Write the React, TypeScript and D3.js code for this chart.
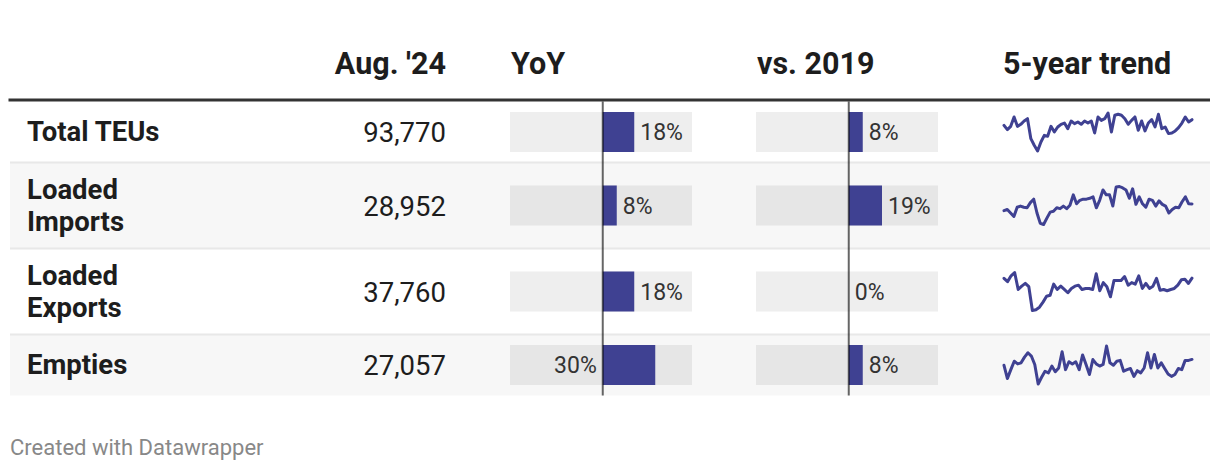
import React from "react";
import * as d3 from "d3";

// ---------- data ----------
const categories = ["Total TEUs", "Loaded Imports", "Loaded Exports", "Empties"];
const columnHeaders = ["Aug. '24", "YoY", "vs. 2019", "5-year trend"];
const aug24 = [93770, 28952, 37760, 27057];
const yoy = [18, 8, 18, 30];
const vs2019 = [8, 19, 0, 8];

// monthly TEUs (thousands), Aug 2019 – Aug 2024
const trendTotal = [87.6, 82.9, 86.5, 96.7, 86.5, 88.7, 92.3, 94.8, 73.1, 65.9, 59.7, 69.5, 76.7, 75.7, 86.5, 80.4, 85.8, 88.7, 90.1, 84.0, 92.3, 89.4, 91.2, 88.7, 92.3, 90.1, 92.3, 79.3, 96.7, 93.0, 94.8, 101.0, 80.4, 98.5, 99.6, 98.5, 94.8, 88.7, 93.0, 96.7, 82.2, 92.3, 81.5, 90.1, 93.8, 85.8, 99.6, 84.0, 85.8, 78.6, 79.3, 81.5, 85.1, 90.1, 96.7, 91.2, 93.77];
const trendImports = [26.6, 27.0, 25.8, 24.6, 27.8, 28.2, 27.8, 27.6, 29.4, 30.6, 25.8, 22.2, 21.8, 24.0, 26.1, 26.4, 27.6, 27.3, 28.2, 27.3, 28.5, 32.1, 29.0, 30.2, 30.6, 30.6, 30.9, 31.4, 27.6, 30.2, 33.8, 32.1, 32.1, 28.2, 34.8, 35.0, 34.5, 33.8, 30.9, 34.2, 28.8, 31.4, 29.0, 27.8, 30.6, 30.2, 28.2, 30.0, 28.8, 28.2, 25.8, 27.0, 27.8, 27.6, 29.7, 31.4, 29.0, 28.95];
const trendExports = [37.7, 36.4, 38.7, 40.0, 33.3, 34.6, 35.7, 34.4, 25.0, 25.3, 26.3, 28.3, 30.6, 31.0, 35.4, 33.3, 34.6, 33.3, 32.0, 33.7, 34.6, 35.0, 33.3, 33.7, 33.7, 33.3, 39.5, 32.8, 36.0, 34.4, 30.4, 36.8, 36.8, 36.8, 38.4, 35.0, 36.0, 35.4, 38.7, 33.7, 35.7, 33.7, 34.6, 37.7, 33.0, 33.3, 32.8, 33.3, 33.7, 35.0, 37.1, 37.3, 35.7, 37.76];
const trendEmpties = [24.9, 20.0, 23.3, 26.4, 25.4, 25.8, 27.9, 29.5, 28.3, 25.2, 18.0, 20.5, 22.7, 22.1, 24.6, 22.5, 23.9, 29.9, 23.3, 26.2, 25.4, 26.2, 23.3, 28.7, 25.2, 21.5, 27.0, 25.4, 24.6, 25.2, 32.0, 25.8, 24.9, 26.4, 26.7, 22.7, 23.3, 23.7, 20.8, 22.9, 22.1, 23.9, 29.5, 23.9, 28.9, 23.9, 25.8, 23.7, 21.7, 20.8, 21.5, 23.7, 23.3, 26.7, 26.7, 27.06];
const trends = [trendTotal, trendImports, trendExports, trendEmpties];

const barDomain = [-53, 51];

// ---------- style ----------
const FONT = "Roboto, 'Noto Sans', sans-serif";
const BAR = "#3f4192";
const TEXT = "#1d1d1d";

let _ctx: CanvasRenderingContext2D | null = null;
function measure(text: string, font: string) {
  if (!_ctx) _ctx = document.createElement("canvas").getContext("2d");
  _ctx!.font = font;
  return _ctx!.measureText(text).width;
}

function wrap(text: string, font: string, maxW: number) {
  const words = text.split(" ");
  const lines: string[] = [];
  let cur = "";
  words.forEach((w) => {
    const t = cur ? cur + " " + w : w;
    if (cur && measure(t, font) > maxW) {
      lines.push(cur);
      cur = w;
    } else cur = t;
  });
  if (cur) lines.push(cur);
  return lines;
}

export default function App() {
  const W = 1220, H = 472;
  const tLeft = 10, tRight = 1210;
  const rowTop0 = 101.5;
  const labelSize = 27.5, lineH = 32;
  const labelFont = `bold ${labelSize}px Roboto`;
  const numSize = 27.5;
  const pctSize = 23;
  const headSize = 30.5;

  const fmt = d3.format(",");
  const pct = (v: number) => `${v}%`;

  const rows = categories.map((c, i) => ({
    name: c,
    lines: wrap(c, labelFont, 170),
    num: aug24[i],
    yoy: yoy[i],
    vs: vs2019[i],
    trend: trends[i],
    top: 0,
    h: 0,
  }));
  let y = rowTop0;
  rows.forEach((r) => {
    r.top = y;
    r.h = Math.max(61, r.lines.length * lineH + 22);
    y += r.h;
  });
  const tBottom = y;

  const yoyScale = d3.scaleLinear().domain(barDomain).range([510, 692]);
  const vsScale = d3.scaleLinear().domain(barDomain).range([756, 938]);
  const sparkX = [1004, 1192];

  const barCell = (scale: d3.ScaleLinear<number, number>, v: number, cy: number, key: string, shaded: boolean) => {
    const [r0, r1] = scale.range();
    const z = scale(0);
    const e = scale(v);
    const lab = pct(v);
    const lw = measure(lab, `${pctSize}px Roboto`);
    const pad = 6;
    let lx: number, anchor: "start" | "end";
    if (v >= 0) {
      if (e + pad + lw > r1) { lx = z - pad; anchor = "end"; }
      else { lx = e + pad; anchor = "start"; }
    } else {
      if (e - pad - lw < r0) { lx = z + pad; anchor = "start"; }
      else { lx = e - pad; anchor = "end"; }
    }
    return (
      <g key={key}>
        <rect x={r0} y={cy - 20} width={r1 - r0} height={40} fill={shaded ? "#e6e6e6" : "#eeeeee"} />
        <rect x={Math.min(z, e)} y={cy - 20} width={Math.abs(e - z)} height={40} fill={BAR} />
        <text x={lx} y={cy + pctSize * 0.35} textAnchor={anchor} fontSize={pctSize} fill="#333" fontFamily={FONT}>
          {lab}
        </text>
      </g>
    );
  };

  return (
    <svg width={W} height={H} style={{ position: "absolute", left: 0, top: 0, background: "#fff" }} fontFamily={FONT}>
      {/* header */}
      <g fontWeight="bold" fontSize={headSize} fill={TEXT}>
        <text x={446} y={73.5} textAnchor="end">{columnHeaders[0]}</text>
        <text x={511} y={73.5}>{columnHeaders[1]}</text>
        <text x={757} y={73.5}>{columnHeaders[2]}</text>
        <text x={1003} y={73.5}>{columnHeaders[3]}</text>
      </g>

      {/* rows */}
      {rows.map((r, i) => {
        const cy = r.top + r.h / 2;
        const shaded = i % 2 === 1;
        const ys = d3.scaleLinear().domain(d3.extent(r.trend) as [number, number]).range([cy + 19, cy - 19]);
        const xs = d3.scaleLinear().domain([0, r.trend.length - 1]).range(sparkX);
        const line = d3.line<number>().x((_, j) => xs(j)).y((d) => ys(d));
        const n = r.lines.length;
        const blockTop = cy - (n * lineH) / 2;
        const baseOff = (lineH - labelSize * 1.172) / 2 + labelSize * 0.928;
        return (
          <g key={r.name}>
            <rect x={tLeft} y={r.top} width={tRight - tLeft} height={r.h} fill={shaded ? "#f7f7f7" : "#ffffff"} />
            {i > 0 && <rect x={tLeft} y={r.top - 1} width={tRight - tLeft} height={2} fill="#e8e8e8" />}
            <text fontWeight="bold" fontSize={labelSize} fill={TEXT}>
              {r.lines.map((l, k) => (
                <tspan key={k} x={27} y={blockTop + k * lineH + baseOff}>{l}</tspan>
              ))}
            </text>
            <text x={446} y={cy + numSize * 0.37} textAnchor="end" fontSize={numSize} fill={TEXT}>
              {fmt(r.num)}
            </text>
            {barCell(yoyScale, r.yoy, cy, "y", shaded)}
            {barCell(vsScale, r.vs, cy, "v", shaded)}
            <path d={line(r.trend) || ""} fill="none" stroke={BAR} strokeWidth={3} strokeLinejoin="round" strokeLinecap="round" />
          </g>
        );
      })}

      {/* header rule */}
      <rect x={8.5} y={98.5} width={tRight - 8.5} height={3} fill="#333" />

      {/* zero lines */}
      {[yoyScale, vsScale].map((s, i) => (
        <line key={i} x1={s(0)} x2={s(0)} y1={rowTop0} y2={tBottom} stroke="#000" strokeOpacity={0.6} strokeWidth={2} />
      ))}

      <text x={10} y={455} fontSize={22} fill="#888">Created with Datawrapper</text>
    </svg>
  );
}
